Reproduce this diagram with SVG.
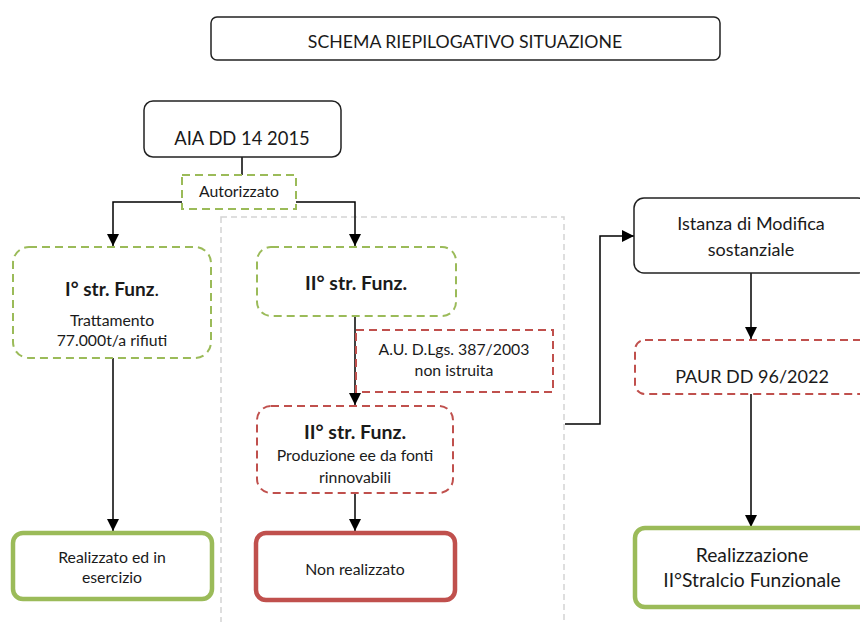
<svg xmlns="http://www.w3.org/2000/svg" width="860" height="622" viewBox="0 0 860 622">
<style>
text{font-family:Lato,"Liberation Sans",sans-serif;fill:#1a1a1a;text-anchor:middle}
.solid{fill:#fff;stroke:#222;stroke-width:1.5}
.gd{fill:#fff;stroke:#9BBB59;stroke-width:2;stroke-dasharray:8 5}
.rd{fill:#fff;stroke:#C0504D;stroke-width:2;stroke-dasharray:8 5}
.gt{fill:#fff;stroke:#9BBB59;stroke-width:4.5}
.rt{fill:#fff;stroke:#C0504D;stroke-width:4.5}
.ln{fill:none;stroke:#000;stroke-width:1.5}
.b{font-weight:bold}
.s{font-size:15.8px}
.m{font-size:18px}
</style>
<defs>
<marker id="ah2" viewBox="0 0 10 10" refX="10" refY="5" markerWidth="12" markerHeight="12" markerUnits="userSpaceOnUse" orient="auto">
<path d="M0,0 L10,5 L0,10 z" fill="#000"/>
</marker>
</defs>
<rect x="0" y="0" width="860" height="622" fill="#fff"/>

<g id="container">
<rect x="221" y="217" width="343" height="420" fill="none" stroke="#D3D3D3" stroke-width="1.5" stroke-dasharray="6 4"/>
</g>

<g id="connectors">
<line class="ln" x1="242" y1="157" x2="242" y2="175"/>
<polyline class="ln" points="182,202 113,202 113,246" marker-end="url(#ah2)"/>
<polyline class="ln" points="296,202 355,202 355,246" marker-end="url(#ah2)"/>
<line class="ln" x1="113" y1="358" x2="113" y2="531" marker-end="url(#ah2)"/>
<line class="ln" x1="355" y1="316" x2="355" y2="405" marker-end="url(#ah2)"/>
<line class="ln" x1="355" y1="493" x2="355" y2="531" marker-end="url(#ah2)"/>
<polyline class="ln" points="565,424 600,424 600,236 634,236" marker-end="url(#ah2)"/>
<line class="ln" x1="751" y1="273" x2="751" y2="339" marker-end="url(#ah2)"/>
<line class="ln" x1="751" y1="394" x2="751" y2="527" marker-end="url(#ah2)"/>
</g>

<g id="title">
<rect class="solid" x="211" y="17" width="509" height="43" rx="6"/>
<text x="465" y="48" font-size="17.7">SCHEMA RIEPILOGATIVO SITUAZIONE</text>
</g>

<g id="aia">
<rect class="solid" x="144" y="101" width="197" height="56" rx="9"/>
<text x="242" y="145" font-size="18.4">AIA DD 14 2015</text>
</g>

<g id="autorizzato">
<rect class="gd" x="182" y="175" width="114" height="34"/>
<text x="239" y="197" font-size="15.8">Autorizzato</text>
</g>

<g id="str1">
<rect class="gd" x="13" y="247" width="198" height="111" rx="16"/>
<text x="112" y="296" font-size="19"><tspan class="b">I° str. Funz</tspan>.</text>
<text x="112" y="326" class="s">Trattamento</text>
<text x="112" y="346" class="s">77.000t/a rifiuti</text>
</g>

<g id="realizzato">
<rect class="gt" x="13" y="533" width="199" height="66" rx="10"/>
<text x="112" y="563" class="s">Realizzato ed in</text>
<text x="112" y="583" class="s">esercizio</text>
</g>

<g id="str2">
<rect class="gd" x="257" y="247" width="199" height="69" rx="14"/>
<text x="356" y="290" font-size="19.5" class="b">II° str. Funz.</text>
</g>

<g id="au">
<rect class="rd" x="356" y="330" width="197" height="62"/>
<text x="454" y="355" class="s">A.U. D.Lgs. 387/2003</text>
<text x="454" y="376" class="s">non istruita</text>
</g>

<g id="str2b">
<rect class="rd" x="257" y="406" width="196" height="87" rx="14"/>
<text x="355" y="439" font-size="19.5" class="b">II° str. Funz.</text>
<text x="355" y="461" class="s">Produzione ee da fonti</text>
<text x="355" y="483" class="s">rinnovabili</text>
</g>

<g id="nonrealizzato">
<rect class="rt" x="256" y="533" width="199" height="67" rx="10"/>
<text x="355" y="575" class="s">Non realizzato</text>
</g>

<g id="istanza">
<rect class="solid" x="634" y="198" width="234" height="75" rx="10"/>
<text x="751" y="230" class="m">Istanza di Modifica</text>
<text x="751" y="256" class="m">sostanziale</text>
</g>

<g id="paur">
<rect class="rd" x="635" y="340" width="234" height="54" rx="10"/>
<text x="752" y="383" class="m">PAUR DD 96/2022</text>
</g>

<g id="realizzazione">
<rect class="gt" x="635" y="528" width="234" height="79" rx="10"/>
<text x="752" y="562" font-size="19.3">Realizzazione</text>
<text x="752" y="587" font-size="19.3">II°Stralcio Funzionale</text>
</g>
</svg>
